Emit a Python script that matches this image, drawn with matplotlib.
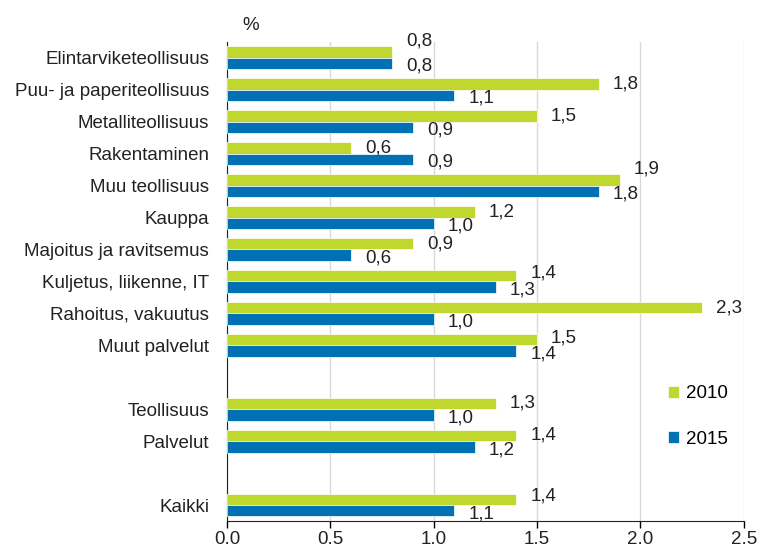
import matplotlib.pyplot as plt
from matplotlib.transforms import offset_copy

plt.rcParams["font.family"] = ["Liberation Sans", "DejaVu Sans"]

categories = [
    "Elintarviketeollisuus",
    "Puu- ja paperiteollisuus",
    "Metalliteollisuus",
    "Rakentaminen",
    "Muu teollisuus",
    "Kauppa",
    "Majoitus ja ravitsemus",
    "Kuljetus, liikenne, IT",
    "Rahoitus, vakuutus",
    "Muut palvelut",
    "Teollisuus",
    "Palvelut",
    "Kaikki",
]
values_2010 = [0.8, 1.8, 1.5, 0.6, 1.9, 1.2, 0.9, 1.4, 2.3, 1.5, 1.3, 1.4, 1.4]
values_2015 = [0.8, 1.1, 0.9, 0.9, 1.8, 1.0, 0.6, 1.3, 1.0, 1.4, 1.0, 1.2, 1.1]
# blank row before these categories
gap_before = ["Teollisuus", "Kaikki"]

# how far the 2010 value label is lifted (points) so labels don't collide
lift_2010 = [8, 0, 0, 0, 8, 0, 0, 2, 0, 1, 0, 0, 2]

green = "#c0d730"
blue = "#0071b2"
fs = 13.5

# row positions, blank row between groups
pos = []
p = 0
for c in categories:
    if c in gap_before:
        p += 1
    pos.append(p)
    p += 1

fig = plt.figure(figsize=(7.62, 5.51), dpi=100)
ax = fig.add_axes([0.298, 0.0545, 0.678, 0.8695])

h = 0.36
ax.barh([y - h / 2 for y in pos], values_2010, height=h, color=green,
        edgecolor="white", linewidth=0.5, label="2010", zorder=3)
ax.barh([y + h / 2 for y in pos], values_2015, height=h, color=blue,
        edgecolor="white", linewidth=0.5, label="2015", zorder=3)

for y, a, b, up in zip(pos, values_2010, values_2015, lift_2010):
    t = offset_copy(ax.transData, fig=fig, x=10, y=up, units="points")
    ax.text(a, y - h / 2, f"{a:.1f}".replace(".", ","), transform=t,
            va="center", ha="left", fontsize=fs, color="#222222")
    t = offset_copy(ax.transData, fig=fig, x=10, y=-2, units="points")
    ax.text(b, y + h / 2, f"{b:.1f}".replace(".", ","), transform=t,
            va="center", ha="left", fontsize=fs, color="#222222")

ax.set_ylim(pos[-1] + 0.5, -0.5)
ax.set_xlim(0, 2.5)
ax.set_yticks(pos)
ax.set_yticklabels(categories, fontsize=fs, color="#222222")
ax.set_xticks([0, 0.5, 1.0, 1.5, 2.0, 2.5])
ax.set_xticklabels(["0.0", "0.5", "1.0", "1.5", "2.0", "2.5"], fontsize=fs, color="#222222")
ax.tick_params(axis="y", length=0, pad=13)
ax.tick_params(axis="x", length=5, width=1, direction="out", pad=2)
ax.grid(axis="x", color="#d9d9d9", linewidth=1, zorder=0)
for s in ["top", "right"]:
    ax.spines[s].set_visible(False)
ax.spines["left"].set_color("#222222")
ax.spines["bottom"].set_color("#222222")

ax.text(0.045, 1.035, "%", transform=ax.transAxes, fontsize=fs, ha="center",
        va="center", color="#222222")

ax.legend(loc="center left", bbox_to_anchor=(0.82, 0.218), frameon=False,
          fontsize=fs, handlelength=0.6, handleheight=0.6, handletextpad=0.4,
          labelspacing=1.5)

fig.savefig("out.png", dpi=100)
